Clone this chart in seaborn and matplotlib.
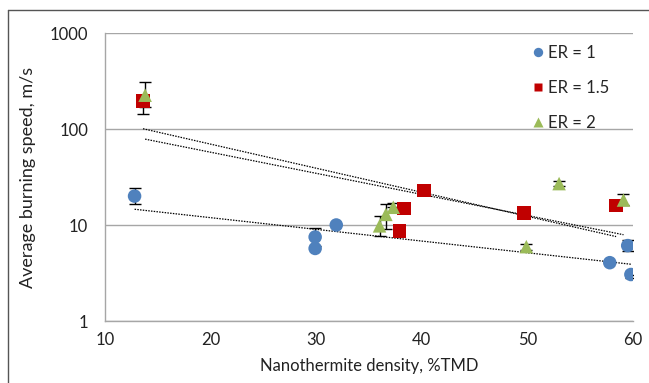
import numpy as np
import pandas as pd
import matplotlib
matplotlib.use("Agg")
import matplotlib.pyplot as plt
from matplotlib.lines import Line2D
import seaborn as sns

# ---- data ----
er1_x = [12.8, 29.9, 29.9, 31.9, 57.8, 59.5, 59.8]
er1_y = [20.0, 7.5, 5.7, 10.0, 4.05, 6.1, 3.05]
er1_lo = [3.4, 1.5, 0.0, 0.0, 0.0, 0.7, 0.25]
er1_hi = [4.0, 1.8, 0.0, 0.0, 0.0, 0.9, 0.0]

er15_x = [13.6, 37.9, 38.3, 40.2, 49.7, 58.4]
er15_y = [195.0, 8.7, 14.8, 23.0, 13.4, 16.0]
er15_lo = [52.0, 0.0, 0.0, 0.0, 1.5, 1.5]
er15_hi = [30.0, 0.0, 0.0, 0.0, 1.5, 1.5]

er2_x = [13.8, 36.0, 36.6, 37.3, 49.9, 53.0, 59.1]
er2_y = [225.0, 9.8, 12.9, 15.3, 5.95, 27.0, 18.2]
er2_lo = [55.0, 2.2, 3.8, 0.0, 0.4, 1.5, 2.0]
er2_hi = [85.0, 2.7, 3.8, 1.5, 0.4, 1.5, 2.7]

labels = ["ER = 1", "ER = 1.5", "ER = 2"]
x_ticks = [10, 20, 30, 40, 50, 60]
y_ticks = [1, 10, 100, 1000]
x_label = "Nanothermite density, %TMD"
y_label = "Average burning speed, m/s"

series = [
    (labels[0], er1_x, er1_y, er1_lo, er1_hi, "#4F81BD", "o", 9),
    (labels[1], er15_x, er15_y, er15_lo, er15_hi, "#C00000", "s", 8),
    (labels[2], er2_x, er2_y, er2_lo, er2_hi, "#9BBB59", "^", 9),
]

sns.set_style("white")
plt.rcParams["font.family"] = ["Lato", "DejaVu Sans"]

fig = plt.figure(figsize=(6.49, 3.83), dpi=100)
ax = fig.add_axes([105 / 649, 1 - 321 / 383, (633 - 105) / 649, (321 - 33) / 383])

frames = []
for name, xs, ys, lo, hi, col, mk, ms in series:
    frames.append(pd.DataFrame({"x": xs, "y": ys, "ER": name}))
df = pd.concat(frames, ignore_index=True)

# exponential trend lines (log-linear fit)
for name, xs, ys, lo, hi, col, mk, ms in series:
    xs_a = np.array(xs)
    coef = np.polyfit(xs_a, np.log10(ys), 1)
    xx = np.linspace(xs_a.min(), xs_a.max(), 50)
    ax.plot(xx, 10 ** np.polyval(coef, xx), color="black", ls=(0, (1.2, 1.0)),
            lw=0.9, zorder=2)

# error bars (only where an error was reported)
for name, xs, ys, lo, hi, col, mk, ms in series:
    xs_a, ys_a, lo_a, hi_a = map(np.array, (xs, ys, lo, hi))
    m = (lo_a > 0) | (hi_a > 0)
    ax.errorbar(xs_a[m], ys_a[m], yerr=[lo_a[m], hi_a[m]], fmt="none", ecolor="black",
                elinewidth=1.0, capsize=4, capthick=1.0, zorder=2.5)

sns.scatterplot(data=df, x="x", y="y", hue="ER", style="ER",
                palette={s[0]: s[5] for s in series},
                markers={s[0]: s[6] for s in series},
                s=95, edgecolor="none", ax=ax, legend=False, zorder=3)

ax.set_yscale("log")
ax.set_xlim(10, 60)
ax.set_ylim(1, 1000)
ax.set_xticks(x_ticks)
ax.set_xticklabels([str(t) for t in x_ticks])
ax.set_yticks(y_ticks)
ax.set_yticklabels([str(t) for t in y_ticks])
ax.yaxis.set_minor_locator(matplotlib.ticker.NullLocator())
ax.grid(axis="y", which="major", color="#a6a6a6", lw=1.0)
ax.set_axisbelow(True)

for sp in ["top", "right"]:
    ax.spines[sp].set_visible(False)
for sp in ["left", "bottom"]:
    ax.spines[sp].set_color("#a6a6a6")
    ax.spines[sp].set_linewidth(1.0)
ax.tick_params(axis="both", which="major", direction="out", length=5, width=1.0,
               color="#a6a6a6", labelsize=12, labelcolor="#222222", pad=3)
ax.tick_params(axis="y", pad=7)

ax.set_xlabel(x_label, fontsize=12, color="#222222", labelpad=7)
ax.set_ylabel(y_label, fontsize=13, color="#222222", labelpad=10)

handles = [Line2D([], [], ls="none", marker=s[6], color=s[5], markersize=s[7] * 0.75,
                  markeredgecolor="none") for s in series]
ax.legend(handles, labels, loc="upper left", bbox_to_anchor=(0.785, 1.0),
          frameon=False, fontsize=12, labelspacing=1.15, handlelength=0.8,
          handletextpad=0.2, borderaxespad=0.3)

# outer frame of the original image
fig.add_artist(Line2D([8 / 649, 8 / 649], [0, 1 - 10 / 383], transform=fig.transFigure,
                      color="#555555", lw=1.0))
fig.add_artist(Line2D([8 / 649, 1], [1 - 10 / 383, 1 - 10 / 383], transform=fig.transFigure,
                      color="#555555", lw=1.0))

fig.savefig("out.png", dpi=100)
